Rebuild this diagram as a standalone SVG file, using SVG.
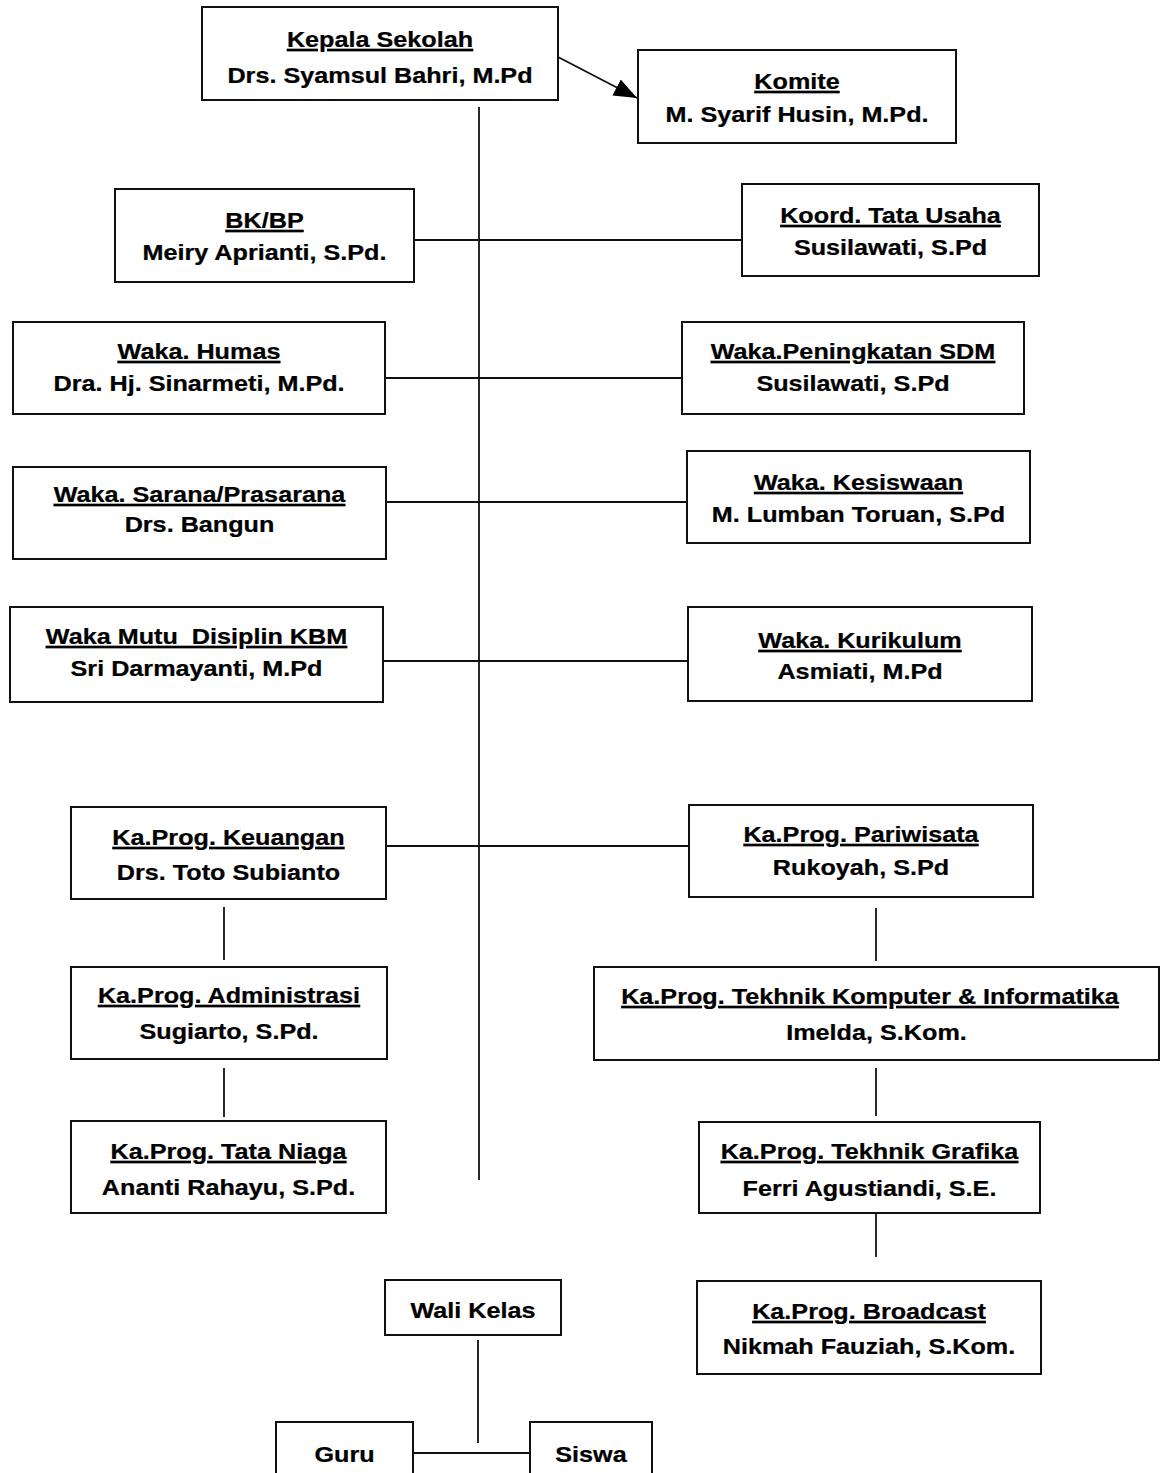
<svg xmlns="http://www.w3.org/2000/svg" width="1163" height="1473" viewBox="0 0 1163 1473">
<defs>
<style>
.b{fill:#fff;stroke:#111;stroke-width:2}
.c{stroke:#111;stroke-width:1.8;fill:none}
.t{font-family:"Liberation Sans",Arial,sans-serif;font-weight:bold;font-size:22.5px;text-anchor:middle;fill:#000;stroke:#000;stroke-width:0.25}
.u{text-decoration:underline}
</style>
<marker id="ah" markerUnits="userSpaceOnUse" viewBox="0 0 24 20" markerWidth="24" markerHeight="20" refX="23" refY="10" orient="auto"><path d="M0,1 L23,10 L0,19 z" fill="#000"/></marker>
</defs>
<rect width="1163" height="1473" fill="#fff"/>
<g id="connectors">
<line class="c" x1="479" y1="107" x2="479" y2="1180"/>
<line class="c" x1="558" y1="57" x2="637" y2="98" marker-end="url(#ah)"/>
<line class="c" x1="414" y1="240" x2="742" y2="240"/>
<line class="c" x1="385" y1="378" x2="682" y2="378"/>
<line class="c" x1="368" y1="502" x2="687" y2="502"/>
<line class="c" x1="383" y1="661" x2="688" y2="661"/>
<line class="c" x1="383" y1="846" x2="689" y2="846"/>
<line class="c" x1="224" y1="907" x2="224" y2="960"/>
<line class="c" x1="224" y1="1068" x2="224" y2="1117"/>
<line class="c" x1="876" y1="908" x2="876" y2="961"/>
<line class="c" x1="876" y1="1068" x2="876" y2="1116"/>
<line class="c" x1="876" y1="1208" x2="876" y2="1257"/>
<line class="c" x1="478" y1="1340" x2="478" y2="1443"/>
<line class="c" x1="413" y1="1453" x2="530" y2="1453"/>
</g>
<g id="kepala"><rect class="b" x="202" y="7" width="356" height="93"/>
<text class="t u" transform="translate(380 47) scale(1.12 1)">Kepala Sekolah</text>
<text class="t" transform="translate(380 83) scale(1.12 1)">Drs. Syamsul Bahri, M.Pd</text></g>
<g id="komite"><rect class="b" x="638" y="50" width="318" height="93"/>
<text class="t u" transform="translate(797 89) scale(1.12 1)">Komite</text>
<text class="t" transform="translate(797 122) scale(1.12 1)">M. Syarif Husin, M.Pd.</text></g>
<g id="bkbp"><rect class="b" x="115" y="189" width="299" height="93"/>
<text class="t u" transform="translate(264.5 228) scale(1.12 1)">BK/BP</text>
<text class="t" transform="translate(264.5 260) scale(1.12 1)">Meiry Aprianti, S.Pd.</text></g>
<g id="koord"><rect class="b" x="742" y="184" width="297" height="92"/>
<text class="t u" transform="translate(890.5 223) scale(1.12 1)">Koord. Tata Usaha</text>
<text class="t" transform="translate(890.5 255) scale(1.12 1)">Susilawati, S.Pd</text></g>
<g id="humas"><rect class="b" x="13" y="322" width="372" height="92"/>
<text class="t u" transform="translate(199 359) scale(1.12 1)">Waka. Humas</text>
<text class="t" transform="translate(199 391) scale(1.12 1)">Dra. Hj. Sinarmeti, M.Pd.</text></g>
<g id="sdm"><rect class="b" x="682" y="322" width="342" height="92"/>
<text class="t u" transform="translate(853 359) scale(1.12 1)">Waka.Peningkatan SDM</text>
<text class="t" transform="translate(853 391) scale(1.12 1)">Susilawati, S.Pd</text></g>
<g id="sarana"><rect class="b" x="13" y="467" width="373" height="92"/>
<text class="t u" transform="translate(199.5 502) scale(1.12 1)">Waka. Sarana/Prasarana</text>
<text class="t" transform="translate(199.5 532) scale(1.12 1)">Drs. Bangun</text></g>
<g id="kesiswaan"><rect class="b" x="687" y="451" width="343" height="92"/>
<text class="t u" transform="translate(858.5 490) scale(1.12 1)">Waka. Kesiswaan</text>
<text class="t" transform="translate(858.5 522) scale(1.12 1)">M. Lumban Toruan, S.Pd</text></g>
<g id="mutu"><rect class="b" x="10" y="607" width="373" height="95"/>
<text class="t u" style="white-space:pre" transform="translate(196.5 644) scale(1.12 1)">Waka Mutu  Disiplin KBM</text>
<text class="t" transform="translate(196.5 676) scale(1.12 1)">Sri Darmayanti, M.Pd</text></g>
<g id="kurikulum"><rect class="b" x="688" y="607" width="344" height="94"/>
<text class="t u" transform="translate(860 648) scale(1.12 1)">Waka. Kurikulum</text>
<text class="t" transform="translate(860 679) scale(1.12 1)">Asmiati, M.Pd</text></g>
<g id="keuangan"><rect class="b" x="71" y="807" width="315" height="92"/>
<text class="t u" transform="translate(228.5 845) scale(1.12 1)">Ka.Prog. Keuangan</text>
<text class="t" transform="translate(228.5 880) scale(1.12 1)">Drs. Toto Subianto</text></g>
<g id="pariwisata"><rect class="b" x="689" y="805" width="344" height="92"/>
<text class="t u" transform="translate(861 842) scale(1.12 1)">Ka.Prog. Pariwisata</text>
<text class="t" transform="translate(861 875) scale(1.12 1)">Rukoyah, S.Pd</text></g>
<g id="administrasi"><rect class="b" x="71" y="967" width="316" height="92"/>
<text class="t u" transform="translate(229 1003) scale(1.12 1)">Ka.Prog. Administrasi</text>
<text class="t" transform="translate(229 1039) scale(1.12 1)">Sugiarto, S.Pd.</text></g>
<g id="tataniaga"><rect class="b" x="71" y="1121" width="315" height="92"/>
<text class="t u" transform="translate(228.5 1159) scale(1.12 1)">Ka.Prog. Tata Niaga</text>
<text class="t" transform="translate(228.5 1195) scale(1.12 1)">Ananti Rahayu, S.Pd.</text></g>
<g id="tkj"><rect class="b" x="594" y="967" width="565" height="93"/>
<text class="t u" transform="translate(870 1004) scale(1.12 1)">Ka.Prog. Tekhnik Komputer &amp; Informatika</text>
<text class="t" transform="translate(876.5 1040) scale(1.12 1)">Imelda, S.Kom.</text></g>
<g id="grafika"><rect class="b" x="699" y="1122" width="341" height="91"/>
<text class="t u" transform="translate(869.5 1159) scale(1.12 1)">Ka.Prog. Tekhnik Grafika</text>
<text class="t" transform="translate(869.5 1196) scale(1.12 1)">Ferri Agustiandi, S.E.</text></g>
<g id="broadcast"><rect class="b" x="697" y="1281" width="344" height="93"/>
<text class="t u" transform="translate(869 1319) scale(1.12 1)">Ka.Prog. Broadcast</text>
<text class="t" transform="translate(869 1354) scale(1.12 1)">Nikmah Fauziah, S.Kom.</text></g>
<g id="walikelas"><rect class="b" x="385" y="1280" width="176" height="55"/>
<text class="t" transform="translate(473 1318) scale(1.12 1)">Wali Kelas</text></g>
<g id="guru"><rect class="b" x="276" y="1422" width="137" height="70"/>
<text class="t" transform="translate(344.5 1462) scale(1.12 1)">Guru</text></g>
<g id="siswa"><rect class="b" x="530" y="1422" width="122" height="70"/>
<text class="t" transform="translate(591 1462) scale(1.12 1)">Siswa</text></g>
</svg>
